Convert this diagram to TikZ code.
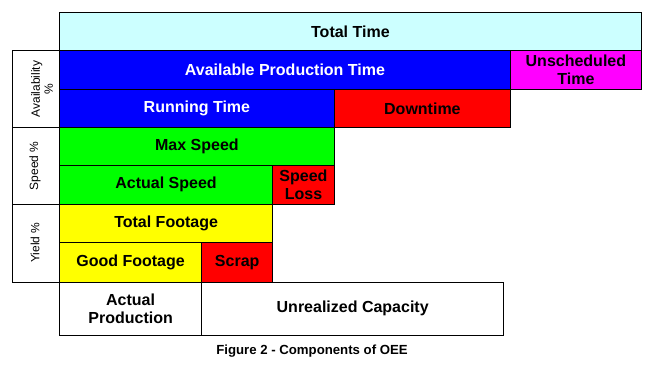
\documentclass[tikz,border=0pt]{standalone}
\usepackage{fontspec}
\setmainfont{Liberation Sans}
\usepackage{xcolor}
\usepackage{tikz}

\definecolor{totalcyan}{RGB}{204,255,255}
\definecolor{availblue}{RGB}{0,0,255}
\definecolor{unschedmagenta}{RGB}{255,0,255}
\definecolor{lossred}{RGB}{255,0,0}
\definecolor{speedgreen}{RGB}{0,255,0}
\definecolor{yieldyellow}{RGB}{255,255,0}

\tikzset{
    cell/.style={draw, line width=0.8pt, anchor=north west, inner sep=0pt, outer sep=0pt,
        align=center, font=\bfseries\fontsize{16}{17.5}\selectfont},
    sidecell/.style={draw, line width=0.8pt, anchor=north west, inner sep=0pt, outer sep=0pt,
        minimum width=47.2pt},
    sidelabel/.style={rotate=90, align=center, font=\fontsize{12}{13}\selectfont}
}

\begin{document}
\begin{tikzpicture}[x=1pt, y=-1pt]
        \useasboundingbox (0,0) rectangle (657,369);

        % Total Time
        \node[cell, fill=totalcyan, minimum width=581.8pt, minimum height=38pt] (total) at (59.5,12.5) {Total Time};

        % Availability rows
        \node[cell, fill=availblue, text=white, minimum width=451pt, minimum height=38.8pt] (avail) at (59.5,50.5) {Available Production Time};
        \node[cell, fill=unschedmagenta, minimum width=130.8pt, minimum height=38.8pt] (unsched) at (510.5,50.5) {Unscheduled\\Time};
        \node[cell, fill=availblue, text=white, minimum width=274.8pt, minimum height=38pt] (running) at (59.5,89.3) {Running Time};
        \node[cell, fill=lossred, minimum width=176.2pt, minimum height=38pt] (downtime) at (334.3,89.3) {Downtime};

        % Speed rows
        \node[cell, fill=speedgreen, minimum width=274.8pt, minimum height=38pt] (maxspeed) at (59.5,127.3) {Max Speed};
        \node[cell, fill=speedgreen, minimum width=213.2pt, minimum height=38.9pt] (actspeed) at (59.5,165.3) {Actual Speed};
        \node[cell, fill=lossred, minimum width=61.6pt, minimum height=38.9pt] (speedloss) at (272.7,165.3) {Speed\\Loss};

        % Yield rows
        \node[cell, fill=yieldyellow, minimum width=213.2pt, minimum height=38.1pt] (totfootage) at (59.5,204.2) {Total Footage};
        \node[cell, fill=yieldyellow, minimum width=142.2pt, minimum height=40pt] (goodfootage) at (59.5,242.3) {Good Footage};
        \node[cell, fill=lossred, minimum width=71pt, minimum height=40pt] (scrap) at (201.7,242.3) {Scrap};

        % Result row
        \node[cell, fill=white, minimum width=142.2pt, minimum height=53pt] (actprod) at (59.5,282.3) {Actual\\Production};
        \node[cell, fill=white, minimum width=302pt, minimum height=53pt] (unrealized) at (201.7,282.3) {Unrealized Capacity};

        % Side boxes
        \node[sidecell, minimum height=76.8pt] (availbox) at (12.3,50.5) {};
        \node[sidecell, minimum height=76.9pt] (speedbox) at (12.3,127.3) {};
        \node[sidecell, minimum height=78.1pt] (yieldbox) at (12.3,204.2) {};
        \node[sidelabel] (availtext) at (42,88.9) {Availability\\\%};
        \node[sidelabel] (speedtext) at (35,165.7) {Speed \%};
        \node[sidelabel] (yieldtext) at (35,242.5) {Yield \%};

        % Caption
        \node[font=\bfseries\fontsize{13.2}{15}\selectfont] (caption) at (312,351) {Figure 2 - Components of OEE};
    \end{tikzpicture}
\end{document}
